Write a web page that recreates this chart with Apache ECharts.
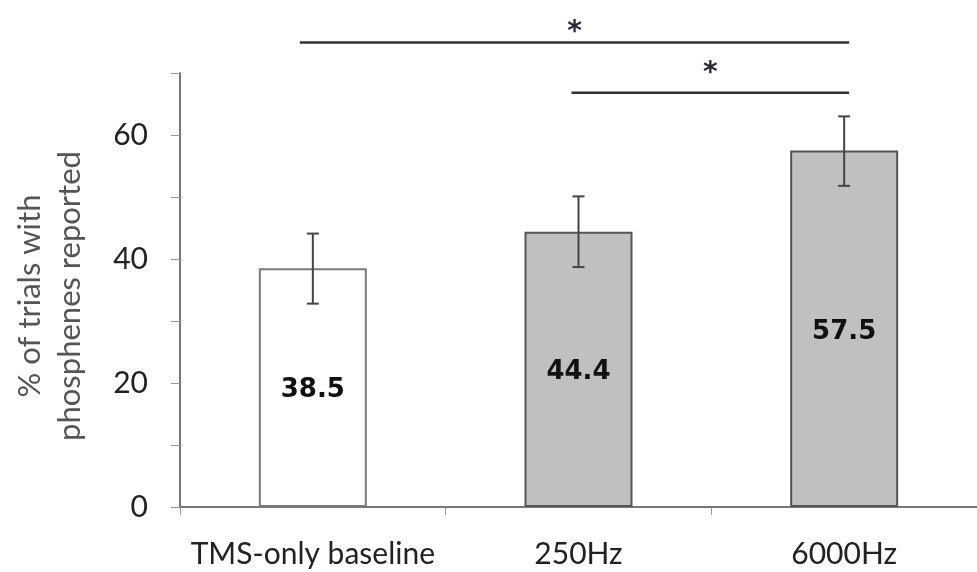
<!DOCTYPE html>
<html>
<head>
<meta charset="utf-8">
<script src="https://cdn.jsdelivr.net/npm/echarts@6/dist/echarts.min.js"></script>
<style>html,body{margin:0;padding:0;background:#fff;}#main{width:977px;height:572px;}</style>
</head>
<body>
<div id="main"></div>
<script>
const categories = ['TMS-only baseline', '250Hz', '6000Hz'];
const means = [38.5, 44.4, 57.5];
const errLow = [32.8, 38.7, 51.8];
const errHigh = [44.1, 50.1, 63.0];
const sigFrom = [0, 1];
const sigTo = [2, 2];
const sigLevel = [74.9, 66.8];
const sigStarLevel = [77.7, 71.0];
const sigLabel = ['*', '*'];
const yTickLabels = [0, 20, 40, 60];

const chart = echarts.init(document.getElementById('main'));

const barData = means.map((v, i) => ({
  value: v,
  itemStyle: i === 0
    ? { color: '#ffffff', borderColor: '#7a7a7a', borderWidth: 2 }
    : { color: '#c0c0c0', borderColor: '#555555', borderWidth: 2 }
}));

const errData = categories.map((c, i) => [i, errLow[i], errHigh[i]]);
const sigData = sigFrom.map((f, i) => [f, sigTo[i], sigLevel[i], sigStarLevel[i]]);

chart.setOption({
  animation: false,
  backgroundColor: '#ffffff',
  grid: { left: 180, top: 73, width: 805, height: 434 },
  xAxis: {
    type: 'category',
    data: categories,
    axisLine: { lineStyle: { color: '#777', width: 2 } },
    axisTick: { show: true, length: 8, lineStyle: { color: '#999', width: 1 } },
    axisLabel: { interval: 0, color: '#222', fontFamily: 'Lato', fontSize: 30, margin: 32 }
  },
  yAxis: {
    type: 'value',
    min: 0, max: 70, interval: 10,
    name: '% of trials with\nphosphenes reported',
    nameLocation: 'middle',
    nameGap: 90,
    nameTextStyle: { color: '#555', fontFamily: 'Lato', fontSize: 31, lineHeight: 40, padding: [0, 12, 0, 0] },
    axisLine: { show: true, lineStyle: { color: '#777', width: 2 } },
    axisTick: { show: true, length: 9, lineStyle: { color: '#999', width: 1 } },
    splitLine: { show: false },
    axisLabel: {
      color: '#222', fontFamily: 'Lato', fontSize: 30, margin: 32,
      formatter: v => (yTickLabels.indexOf(v) >= 0 ? String(v) : '')
    }
  },
  series: [
    {
      type: 'bar',
      data: barData,
      barWidth: 108,
      label: {
        show: true, position: 'inside', color: '#111', offset: [0, 3],
        fontFamily: 'DejaVu Sans', fontWeight: 'bold', fontSize: 26,
        formatter: p => p.value.toFixed(1)
      }
    },
    {
      type: 'custom',
      data: errData,
      z: 5,
      clip: false,
      renderItem: function (params, api) {
        const x = api.value(0);
        const lo = api.coord([x, api.value(1)]);
        const hi = api.coord([x, api.value(2)]);
        const h = 6;
        const st = { stroke: '#444', lineWidth: 2 };
        return {
          type: 'group',
          children: [
            { type: 'line', shape: { x1: lo[0], y1: lo[1], x2: hi[0], y2: hi[1] }, style: st },
            { type: 'line', shape: { x1: hi[0] - h, y1: hi[1], x2: hi[0] + h, y2: hi[1] }, style: st },
            { type: 'line', shape: { x1: lo[0] - h, y1: lo[1], x2: lo[0] + h, y2: lo[1] }, style: st }
          ]
        };
      }
    },
    {
      type: 'custom',
      data: sigData,
      z: 5,
      clip: false,
      renderItem: function (params, api) {
        const a = api.coord([api.value(0), api.value(2)]);
        const b = api.coord([api.value(1), api.value(2)]);
        const s = api.coord([api.value(1), api.value(3)]);
        const x1 = a[0] - (params.dataIndex === 0 ? 13 : 7), x2 = b[0] + 5;
        const mid = (x1 + x2) / 2;
        return {
          type: 'group',
          children: [
            { type: 'line', shape: { x1: x1, y1: a[1], x2: x2, y2: a[1] }, style: { stroke: '#333', lineWidth: 2.5 } },
            { type: 'text', x: mid, y: s[1] + 7, style: { text: sigLabel[params.dataIndex], fill: '#2a2a3a', font: 'bold 28px "DejaVu Sans"', align: 'center', verticalAlign: 'middle' } }
          ]
        };
      }
    }
  ]
});
</script>
</body>
</html>
